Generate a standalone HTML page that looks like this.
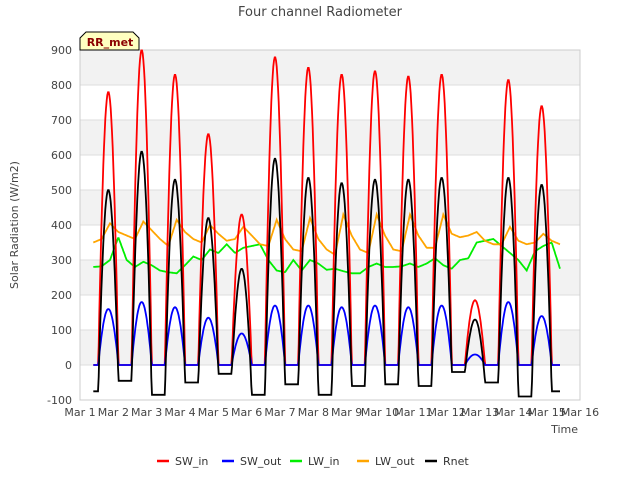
<!DOCTYPE html>
<html><head><meta charset="utf-8"><style>
body{margin:0;background:#fff;}
svg text{font-family:"DejaVu Sans","Liberation Sans",sans-serif;}
</style></head><body>
<svg id="chart" width="640" height="480" xmlns="http://www.w3.org/2000/svg">
<rect width="640" height="480" fill="#fff"/>
<g id="bands"></g>
<g id="grid"></g>
<rect x="80" y="50" width="500" height="350" fill="none" stroke="#ccc"/>
<g id="series"></g>
<g id="axes"></g>
<text x="320" y="16" text-anchor="middle" font-size="13" fill="#444">Four channel Radiometer</text>
<text x="0" y="0" transform="translate(18,225) rotate(-90)" text-anchor="middle" font-size="11" fill="#444">Solar Radiation (W/m2)</text>
<text x="578" y="433" text-anchor="end" font-size="11" fill="#444">Time</text>
<g>
<path d="M86,32 L133,32 L139,38 L139,50 L80,50 L80,38 Z" fill="#ffffc0" stroke="#000"/>
<text x="110" y="46" text-anchor="middle" font-size="11" font-weight="bold" fill="#8b0000">RR_met</text>
</g>
<g id="legend"></g>
</svg>
<script>
const yTicks=[-100,0,100,200,300,400,500,600,700,800,900];
const xTickLabels=["Mar 1","Mar 2","Mar 3","Mar 4","Mar 5","Mar 6","Mar 7","Mar 8","Mar 9","Mar 10","Mar 11","Mar 12","Mar 13","Mar 14","Mar 15","Mar 16"];
const days=[1,2,3,4,5,6,7,8,9,10,11,12,13,14];
const swInPeak=[780,900,830,660,430,880,850,830,840,825,830,185,815,740];
const swOutPeak=[160,180,165,135,90,170,170,165,170,165,170,30,180,140];
const rnetPeak=[500,610,530,420,275,590,535,520,530,530,535,130,535,515];
const rnetNight=[-75,-45,-85,-50,-25,-85,-55,-85,-60,-55,-60,-20,-50,-90,-75];
const lwStart=1.4;
const lwIn=[280,282,300,365,300,280,295,285,270,265,262,285,310,300,330,320,345,320,335,340,345,300,270,265,300,270,300,290,272,275,268,262,262,280,290,280,280,282,290,280,290,305,285,275,300,305,350,355,360,340,320,300,270,325,340,350,275];
const lwOut=[350,360,405,380,370,360,410,385,360,340,415,380,360,350,400,375,355,360,395,370,345,340,415,360,330,325,420,360,330,315,430,370,330,320,430,370,330,325,430,370,335,335,430,375,365,370,380,355,345,345,395,355,345,350,375,355,345];
const NS="http://www.w3.org/2000/svg";
const X=d=>80+(d-1)*500/15;
const Y=v=>400-(v+100)*0.35;
function el(t,a,p){const e=document.createElementNS(NS,t);for(const k in a)e.setAttribute(k,a[k]);p.appendChild(e);return e;}
const bands=document.getElementById('bands'),grid=document.getElementById('grid'),axes=document.getElementById('axes');
for(let v=0;v<900;v+=200){const b=el('rect',{x:80,y:Y(v+100),width:500,height:35,fill:'#f2f2f2'},bands);

}
yTicks.forEach(v=>{const g=el('line',{x1:80,x2:580,y1:Y(v),y2:Y(v),stroke:'#ddd'},grid);


const t=el('text',{x:72,y:Y(v)+4,'text-anchor':'end','font-size':11,fill:'#444'},axes);t.textContent=v;

});
xTickLabels.forEach((s,i)=>{const t=el('text',{x:X(i+1),y:416,'text-anchor':'middle','font-size':11,fill:'#444'},axes);t.textContent=s;

});
const rise=0.55,set=1.15,step=0.02;
function shape(t,d){const f=(t-d-rise)/(set-rise);if(f<=0||f>=1)return 0;return Math.pow(Math.sin(Math.PI*f),0.9);}
function dayIdx(t){for(let i=0;i<days.length;i++){if(t<days[i]+set)return i;}return days.length;}
function build(fn){let pts=[];for(let t=1.4;t<=15.4+1e-9;t+=step){pts.push(X(t).toFixed(1)+','+Y(fn(t)).toFixed(1));}return pts.join(' ');}
function sw(arr){return t=>{let v=0;days.forEach((d,i)=>{v+=arr[i]*shape(t,d);});return v;};}
function rnet(t){const i=dayIdx(t);if(i>=days.length)return rnetNight[days.length];const d=days[i];const f=shape(t,d);
if(t<d+rise)return rnetNight[i];const fr=(t-d-rise)/(set-rise);const base=rnetNight[i]+(rnetNight[i+1]-rnetNight[i])*fr;return base+(rnetPeak[i]-base)*f;}
function lw(arr){return t=>{const p=(t-lwStart)/0.25;const i=Math.min(Math.floor(p),arr.length-2);const f=p-i;return arr[i]+(arr[i+1]-arr[i])*f;};}
const series=document.getElementById('series');
const defs=[['lw-in-line','#00ee00',lw(lwIn)],['lw-out-line','orange',lw(lwOut)],['sw-in-line','red',sw(swInPeak)],['sw-out-line','blue',sw(swOutPeak)],['rnet-line','black',rnet]];
defs.forEach(([n,c,fn])=>{const p=el('polyline',{points:build(fn),fill:'none',stroke:c,'stroke-width':1.8},series);

});
const leg=document.getElementById('legend');
const legItems=[['SW_in','red',157],['SW_out','blue',222],['LW_in','#00ee00',290],['LW_out','orange',357],['Rnet','black',425]];
legItems.forEach(([s,c,x])=>{const g=el('g',{},leg);


el('line',{x1:x,x2:x+12,y1:461,y2:461,stroke:c,'stroke-width':2.5},g);
const t=el('text',{x:x+18,y:465,'font-size':11,fill:'#333'},g);t.textContent=s;});
</script>
</body></html>
